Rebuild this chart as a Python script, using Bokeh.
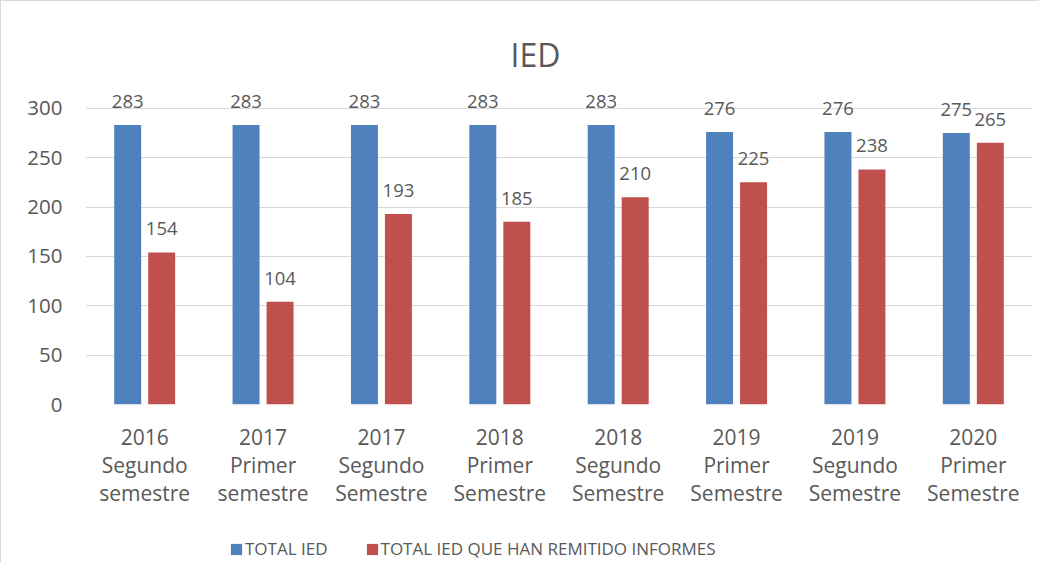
from bokeh.plotting import figure
from bokeh.layouts import column
from bokeh.models import ColumnDataSource, FixedTicker, Legend, LegendItem, LabelSet, Range1d
from bokeh.core.properties import value
from bokeh.embed import file_html
from bokeh.resources import INLINE

categories = ["2016\nSegundo\nsemestre", "2017\nPrimer\nsemestre", "2017\nSegundo\nSemestre",
              "2018\nPrimer\nSemestre", "2018\nSegundo\nSemestre", "2019\nPrimer\nSemestre",
              "2019\nSegundo\nSemestre", "2020\nPrimer\nSemestre"]
total_ied = [283, 283, 283, 283, 283, 276, 276, 275]
total_remitido = [154, 104, 193, 185, 210, 225, 238, 265]
series_names = ["TOTAL IED", "TOTAL IED QUE HAN REMITIDO INFORMES"]
y_ticks = [0, 50, 100, 150, 200, 250, 300]

FONT = "Open Sans"
GRAY = "#595959"
BLUE = "#4F81BD"
RED = "#C0504D"
W = 1038

n = len(categories)
centers = [i + 0.5 for i in range(n)]
off = 0.1436
bw = 0.228

src_a = ColumnDataSource(dict(x=[c - off for c in centers], top=total_ied,
                              lbl=[str(v) for v in total_ied]))
src_b = ColumnDataSource(dict(x=[c + off for c in centers], top=total_remitido,
                              lbl=[str(v) for v in total_remitido]))

p = figure(width=W, height=514, output_backend="svg", toolbar_location=None,
           x_range=Range1d(0, n), y_range=Range1d(0, 320),
           min_border_left=84, min_border_right=7, min_border_top=87, min_border_bottom=111)
p.outline_line_color = None
p.background_fill_color = "white"
p.border_fill_color = "white"

p.vbar(x="x", top="top", width=bw, source=src_a, fill_color=BLUE, line_color=None)
p.vbar(x="x", top="top", width=bw, source=src_b, fill_color=RED, line_color=None)

for s in (src_a, src_b):
    ls = LabelSet(x="x", y="top", text="lbl", source=s, text_align="center",
                  text_baseline="alphabetic", y_offset=17, text_font=value(FONT),
                  text_font_size="18.5px", text_color=GRAY)
    p.add_layout(ls)

# title
p.title.text = "IED"
p.title.align = "left"
p.title.offset = 425
p.title.text_font = FONT
p.title.text_font_size = "32px"
p.title.text_font_style = "normal"
p.title.text_color = GRAY
p.title.standoff = 26

# axes
p.yaxis.ticker = FixedTicker(ticks=y_ticks)
p.yaxis.axis_line_color = None
p.yaxis.major_tick_line_color = None
p.yaxis.minor_tick_line_color = None
p.yaxis.major_tick_out = 0
p.yaxis.major_tick_in = 0
p.yaxis.major_label_standoff = 23
p.yaxis.major_label_text_font = FONT
p.yaxis.major_label_text_font_size = "20.5px"
p.yaxis.major_label_text_color = GRAY

p.xaxis.ticker = FixedTicker(ticks=centers)
p.xaxis.major_label_overrides = {c: lab for c, lab in zip(centers, categories)}
p.xaxis.axis_line_color = None
p.xaxis.major_tick_line_color = None
p.xaxis.minor_tick_line_color = None
p.xaxis.major_tick_out = 0
p.xaxis.major_tick_in = 0
p.xaxis.major_label_standoff = 18
p.xaxis.major_label_text_font = FONT
p.xaxis.major_label_text_font_size = "21px"
p.xaxis.major_label_text_color = GRAY
p.xaxis.major_label_text_line_height = 1.0

p.xgrid.grid_line_color = None
p.ygrid.ticker = FixedTicker(ticks=y_ticks)
p.ygrid.grid_line_color = "#D9D9D9"
p.ygrid.grid_line_width = 1

# legend strip (dummy swatch renderers placed far outside the visible range)
p2 = figure(width=W, height=47, output_backend="svg", toolbar_location=None,
            x_range=Range1d(0, 1), y_range=Range1d(0, 1),
            min_border_left=0, min_border_right=0, min_border_top=0, min_border_bottom=0)
p2.axis.visible = False
p2.grid.visible = False
p2.outline_line_color = None
p2.border_fill_color = "white"
lr1 = p2.vbar(x=[50], bottom=[-20], top=[-10], width=0.1, fill_color=BLUE, line_color=None)
lr2 = p2.vbar(x=[50], bottom=[-20], top=[-10], width=0.1, fill_color=RED, line_color=None)
legend = Legend(items=[LegendItem(label=series_names[0], renderers=[lr1]),
                       LegendItem(label=series_names[1], renderers=[lr2])],
                orientation="horizontal", location=(144, 2),
                glyph_width=14, glyph_height=14, label_standoff=2, spacing=37,
                label_text_font=FONT, label_text_font_size="17px",
                label_text_color=GRAY, border_line_color=None,
                background_fill_alpha=0, margin=0, padding=2)
p2.add_layout(legend)

layout = column(p, p2, spacing=0)
layout.styles = {"border-top": "1px solid #D9D9D9", "border-left": "1px solid #D9D9D9"}

open("out.html", "w").write(file_html(layout, INLINE))
